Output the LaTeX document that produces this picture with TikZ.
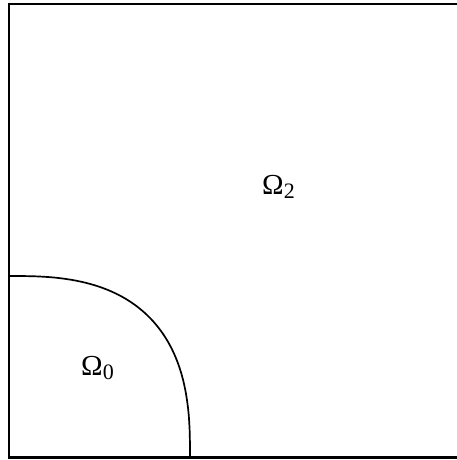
\documentclass[tikz,border=0pt]{standalone}
\usepackage{fontspec}
\setmainfont{Liberation Serif}
\begin{document}
\begin{tikzpicture}[x=1pt,y=1pt,
  boxline/.style={line width=2.1pt,line cap=rect},
  curveline/.style={line width=1.7pt},
  lbl/.style={inner sep=0pt,anchor=base west,font=\fontsize{29}{32}\selectfont}]
\useasboundingbox (0,0) rectangle (456,460);
\coordinate (tl) at (9,456);
\coordinate (bl) at (9,2.5);
\coordinate (tr) at (470,456);
\coordinate (br) at (470,2.5);
\draw[boxline] (tr) -- (tl) -- (bl) -- (br);
\draw[curveline] plot[domain=0:90,samples=120,smooth,variable=\t]
  ({9+181*(cos(\t))^(0.74)},{2.5+181.5*(sin(\t))^(0.74)});
\node[lbl] (o2) at (262,265) {Ω\raisebox{-4pt}{\fontsize{22}{24}\selectfont 2}};
\node[lbl] (o0) at (81,84) {Ω\raisebox{-4pt}{\fontsize{22}{24}\selectfont 0}};
\end{tikzpicture}
\end{document}
